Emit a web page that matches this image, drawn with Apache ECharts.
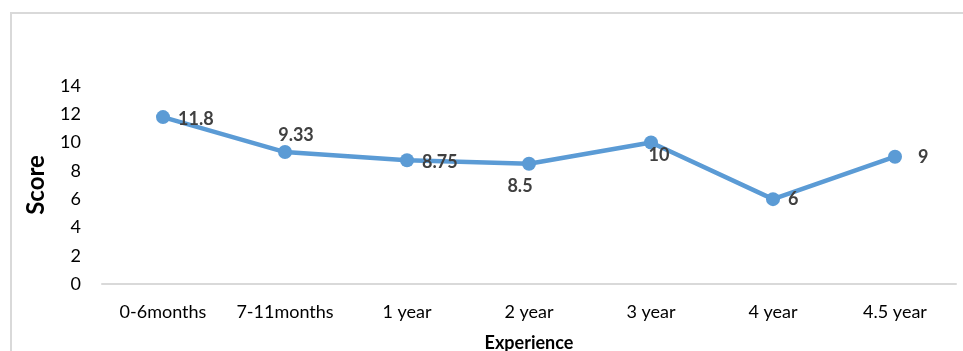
<!DOCTYPE html>
<html>
<head>
<meta charset="utf-8">
<script src="https://cdn.jsdelivr.net/npm/echarts@6/dist/echarts.min.js"></script>
<style>
  html, body { margin: 0; padding: 0; background: #fff; }
  #chart { width: 963px; height: 351px; }
</style>
</head>
<body>
<div id="chart"></div>
<script>
// experience groups and mean score
var categories = ['0-6months', '7-11months', '1 year', '2 year', '3 year', '4 year', '4.5 year'];
var scores = [11.8, 9.33, 8.75, 8.5, 10, 6, 9];
// where each value label sits relative to its point
var labelPos = ['right', 'top', 'right', 'bottom', 'inside', 'right', 'right'];
var labelOffset = [[0, 2], [11, 7], [0, 2], [-9, -2], [8, 13], [0, 0], [8, 0]];

var font = 'Lato, "Open Sans", sans-serif';

var myChart = echarts.init(document.getElementById('chart'));

var points = scores.map(function (v, i) {
  return {
    value: v,
    label: { position: labelPos[i], offset: labelOffset[i] }
  };
});

var option = {
  animation: false,
  backgroundColor: '#fff',
  grid: { left: 102, right: 7, top: 86, bottom: 67, outerBoundsMode: 'none', containLabel: false },
  graphic: [{
    type: 'rect',
    shape: { x: 11, y: 13, width: 970, height: 400 },
    style: { fill: 'none', stroke: '#d9d9d9', lineWidth: 2 }
  }],
  xAxis: {
    type: 'category',
    data: categories,
    name: 'Experience',
    nameLocation: 'middle',
    nameGap: 50,
    nameTextStyle: { color: '#000', fontFamily: font, fontWeight: 'bold', fontSize: 18 },
    axisLine: { lineStyle: { color: '#d9d9d9', width: 2 } },
    axisTick: { show: false },
    axisLabel: { interval: 0, color: '#000', fontFamily: font, fontSize: 18, margin: 19 }
  },
  yAxis: {
    type: 'value',
    min: 0,
    max: 14,
    interval: 2,
    name: 'Score',
    nameLocation: 'middle',
    nameGap: 54,
    nameTextStyle: { color: '#000', fontFamily: font, fontWeight: 'bold', fontSize: 24 },
    axisLine: { show: false },
    axisTick: { show: false },
    splitLine: { show: false },
    axisLabel: { color: '#000', fontFamily: font, fontSize: 18, margin: 21 }
  },
  series: [{
    type: 'line',
    data: points,
    symbol: 'circle',
    symbolSize: 14,
    lineStyle: { color: '#5b9bd5', width: 4.5 },
    itemStyle: { color: '#5b9bd5' },
    label: {
      show: true,
      distance: 8,
      color: '#404040',
      fontFamily: font,
      fontWeight: 'bold',
      fontSize: 18
    }
  }]
};

myChart.setOption(option);
</script>
</body>
</html>
